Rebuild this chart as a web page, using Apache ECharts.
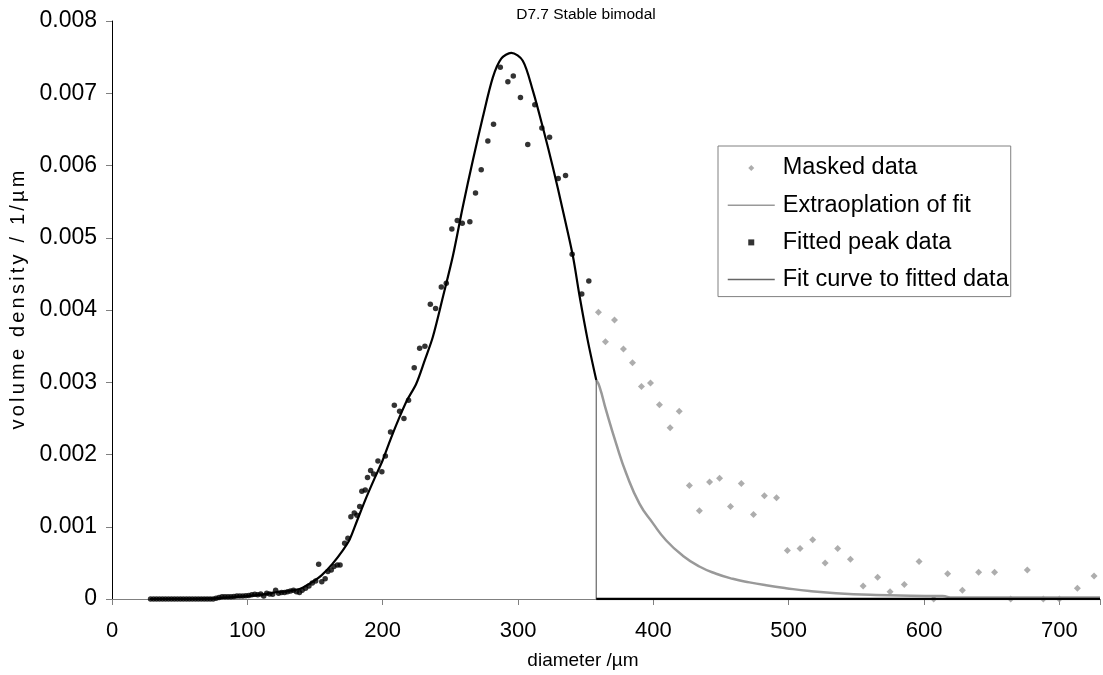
<!DOCTYPE html>
<html>
<head>
<meta charset="utf-8">
<script src="https://cdn.jsdelivr.net/npm/echarts@6/dist/echarts.min.js"></script>
<style>
  html, body { margin: 0; padding: 0; background: #fff; }
  #chart { width: 1103px; height: 675px; }
</style>
</head>
<body>
<div id="chart"></div>
<script>
// Particle size distribution, sample D7.7 (stable bimodal)
const chartTitle = 'D7.7 Stable bimodal';
const xAxisTitle = 'diameter /\u00b5m';
const yAxisTitle = 'volume density / 1/\u00b5m';

const xTicks = [0, 100, 200, 300, 400, 500, 600, 700];
const yTicks = [0, 0.001, 0.002, 0.003, 0.004, 0.005, 0.006, 0.007, 0.008];

// Measured points used for the peak fit
const fittedX = [
  28.5, 30.7, 32.9, 35.1, 37.3, 39.5, 41.7, 43.9, 46.1, 48.3, 50.5, 52.7, 54.9, 57.1,
  59.3, 61.5, 63.7, 65.9, 68.1, 70.3, 72.5, 74.7, 76.9, 79.1, 81.3, 83.5, 85.7, 87.9,
  90.1, 92.3, 94.5, 96.7, 98.9, 101.1, 103.3, 105.5, 107.7, 109.9, 112.1, 114.3, 116.5,
  118.7, 120.9, 123.1, 125.3, 127.5, 129.7, 131.9, 134.1, 136.3, 138.5, 140.5, 143,
  145.5, 148, 150.5, 152.7, 155, 157.5, 159.5, 162, 164, 166.5, 168.5, 171.9, 174.3,
  176.5, 179, 181, 183, 184.6, 187.1, 188.8, 191.1, 193.3, 196.5, 199.4, 202, 205.8,
  208.6, 212.5, 215.7, 219.1, 223.3, 227.3, 231.2, 235.2, 239.1, 243.3, 247.0, 251.1,
  255.1, 258.8, 264.4, 268.6, 272.8, 277.7, 281.9, 286.9, 292.5, 296.5, 301.8, 307.2,
  312.4, 317.6, 323.3, 329.7, 335.1, 340.0, 347.1, 352.3
];
const fittedY = [
  0, 0, 0, 0, 0, 0, 0, 0, 0, 0, 0, 0, 0, 0,
  0, 0, 0, 0, 0, 0, 0, 0, 0.00001, 0.00002, 0.00003, 0.00003, 0.00003, 0.00003,
  0.000035, 0.00004, 0.00004, 0.00004, 0.000045, 0.00005, 0.00006, 0.000065, 0.00006, 0.00007, 0.00004, 0.00008, 0.00007,
  0.000065, 0.00012, 0.00008, 0.00009, 0.00009, 0.0001, 0.00011, 0.00012, 0.0001, 0.00009, 0.00012, 0.00015,
  0.00018, 0.00022, 0.00025, 0.00048, 0.00024, 0.00028, 0.00038, 0.0004, 0.00045, 0.00047, 0.00047, 0.00077, 0.00084,
  0.00114, 0.00119, 0.00116, 0.00128, 0.00149, 0.00151, 0.00168, 0.00178, 0.00173, 0.00191, 0.00176, 0.00198, 0.00231,
  0.00268, 0.0026, 0.0025, 0.00275, 0.0032, 0.00347, 0.0035, 0.00408, 0.00402, 0.00432, 0.00437, 0.00512,
  0.00524, 0.0052, 0.00522, 0.00562, 0.00594, 0.00634, 0.00657, 0.00736, 0.00716, 0.00724, 0.00694, 0.00629,
  0.00684, 0.00652, 0.00639, 0.00582, 0.00586, 0.00477, 0.00422, 0.0044
];

// Points excluded from the fit (second mode)
const maskedX = [
  359.4, 364.6, 371.3, 377.9, 384.6, 391.2, 397.9, 404.5, 412.4, 419.1, 426.6, 434, 441.5,
  448.9, 457, 465, 474, 482, 491, 499, 508.4, 517.7, 526.9, 536.2, 545.6, 555, 565.7,
  574.9, 585.4, 596.3, 607.1, 617.4, 628.3, 640.3, 652.1, 664, 676.3, 688.1, 700, 713.3, 725.6
];
const maskedY = [
  0.00397, 0.00356, 0.00386, 0.00346, 0.00327, 0.00294, 0.00299, 0.00269, 0.00237, 0.0026, 0.00157, 0.00122, 0.00162,
  0.00167, 0.00128, 0.0016, 0.00117, 0.00143, 0.0014, 0.00067, 0.0007, 0.00082, 0.0005, 0.0007, 0.00055, 0.00018, 0.0003,
  0.0001, 0.0002, 0.00052, 0, 0.00035, 0.00012, 0.00037, 0.00037, 0, 0.0004, 0, 0, 0.00015, 0.00032
];

// Fitted curve over the fitted range
const fitX = [
  28, 60, 75, 90, 100, 110, 120, 130, 140, 150, 155, 163, 170, 175.5, 181, 188, 194,
  200, 206, 212.5, 218, 224.8, 231, 237.1, 244.5, 251.9, 259.2, 266.6, 274, 281.4,
  287.6, 295, 303.5, 310.9, 318.3, 325.7, 333.1, 340.5, 345.4, 351.5, 357.8
];
const fitY = [
  0, 0.000003, 0.00001, 0.000025, 0.00004, 0.00006, 0.00009, 0.00011, 0.00015, 0.00026, 0.00033, 0.00049, 0.00066, 0.00082, 0.00108, 0.00141, 0.00167,
  0.00192, 0.00222, 0.00252, 0.00275, 0.00298, 0.0033, 0.00363, 0.00418, 0.00475, 0.00543, 0.00607, 0.00667, 0.00722,
  0.00748, 0.00756, 0.00745, 0.00704, 0.00653, 0.00598, 0.00538, 0.00475, 0.0042, 0.00358, 0.00303
];
// Fit curve is cut to zero beyond the fitted range
const fitCutX = [357.8, 357.8];
const fitCutY = [0.00303, 0];
const fitZeroX = [357.8, 730];
const fitZeroY = [0, 0];

// Extrapolation of the fit beyond the fitted range
const extX = [
  357.8, 360.2, 365.1, 372.5, 379.9, 389.7, 399.6, 409.5, 421.7, 434, 446.4, 458.6, 471,
  483.3, 498, 515.3, 535, 564.5, 590, 613.7, 621, 730
];
const extY = [
  0.00303, 0.00294, 0.00261, 0.00215, 0.00174, 0.00132, 0.00105, 0.00081, 0.0006, 0.00045, 0.00035, 0.00028, 0.00023,
  0.00019, 0.00015, 0.00011, 0.00008, 0.000055, 0.000045, 0.00004, 0.00002, 0.00002
];

const zip = (xs, ys) => xs.map((x, i) => [x, ys[i]]);

// Rotated axis title set with slightly loose letter spacing
const spaced = s => Array.from(s).map(ch => '{c|' + ch + '}').join('');

const FONT = '"Liberation Sans", Arial, sans-serif';
const chart = echarts.init(document.getElementById('chart'), null, { renderer: 'canvas' });

chart.setOption({
  animation: false,
  backgroundColor: '#ffffff',
  textStyle: { fontFamily: FONT },
  title: {
    text: chartTitle,
    left: 581,
    top: 2,
    textAlign: 'center',
    textStyle: { fontFamily: FONT, fontSize: 15.5, fontWeight: 'normal', color: '#000' }
  },
  grid: { left: 112, top: 21, right: 3, bottom: 76, containLabel: false },
  legend: {
    orient: 'vertical',
    left: 718,
    top: 146,
    padding: [10, 2, 5, 9],
    itemWidth: 47,
    itemHeight: 6,
    itemGap: 13.2,
    symbolKeepAspect: true,
    borderColor: '#808080',
    borderWidth: 1,
    textStyle: { fontFamily: FONT, fontSize: 23.5, lineHeight: 23.5, color: '#000', padding: [0, 0, 0, 3] },
    data: [
      { name: 'Masked data', icon: 'path://M5,0L10,5L5,10L0,5Z' },
      { name: 'Extraoplation of fit', itemStyle: { opacity: 0 }, lineStyle: { color: '#999999', width: 1.5 } },
      { name: 'Fitted peak data', icon: 'path://M0,0L10,0L10,10L0,10Z' },
      { name: 'Fit curve to fitted data', itemStyle: { opacity: 0 }, lineStyle: { color: '#666666', width: 1.5 } }
    ]
  },
  xAxis: {
    type: 'value',
    min: 0,
    max: 730,
    interval: 100,
    name: xAxisTitle,
    nameLocation: 'middle',
    nameGap: 52,
    nameTextStyle: { fontFamily: FONT, fontSize: 19, color: '#000', padding: [0, 46, 0, 0] },
    axisLine: { show: true, lineStyle: { color: '#808080', width: 1 } },
    axisTick: { show: true, length: 6, lineStyle: { color: '#808080' } },
    axisLabel: {
      fontFamily: FONT, fontSize: 22, color: '#000', margin: 21,
      formatter: v => (xTicks.includes(v) ? String(v) : '')
    },
    splitLine: { show: false }
  },
  yAxis: {
    type: 'value',
    min: 0,
    max: 0.008,
    interval: 0.001,
    name: spaced(yAxisTitle),
    nameLocation: 'middle',
    nameGap: 84,
    nameRotate: 90,
    nameTextStyle: {
      fontFamily: FONT, fontSize: 20, color: '#000', padding: [0, 0, 0, 20],
      rich: { c: { fontFamily: FONT, fontSize: 20, color: '#000', padding: [0, 1.6, 0, 1.6] } }
    },
    axisLine: { show: true, lineStyle: { color: '#000', width: 1 } },
    axisTick: { show: true, length: 6, lineStyle: { color: '#808080' } },
    axisLabel: {
      fontFamily: FONT, fontSize: 23, color: '#000', margin: 15,
      formatter: v => {
        const t = yTicks.find(k => Math.abs(k - v) < 1e-9);
        if (t === undefined) return '';
        return t === 0 ? '0' : t.toFixed(3);
      }
    },
    splitLine: { show: false }
  },
  series: [
    {
      name: 'Masked data',
      type: 'scatter',
      symbol: 'diamond',
      symbolSize: 7,
      itemStyle: { color: '#999999' },
      data: zip(maskedX, maskedY),
      z: 2
    },
    {
      name: 'Extraoplation of fit',
      type: 'line',
      symbol: 'none',
      smooth: 0.5,
      itemStyle: { color: '#999999' },
      lineStyle: { color: '#999999', width: 2.5 },
      data: zip(extX, extY),
      z: 3
    },
    {
      name: 'Fitted peak data',
      type: 'scatter',
      symbol: 'circle',
      symbolSize: 5.5,
      itemStyle: { color: '#000' },
      data: zip(fittedX, fittedY),
      z: 4
    },
    {
      name: 'Fit curve to fitted data',
      type: 'line',
      symbol: 'none',
      smooth: 0.3,
      itemStyle: { color: '#000' },
      lineStyle: { color: '#000', width: 2.2 },
      data: zip(fitX, fitY),
      z: 5
    },
    {
      name: 'Fit curve to fitted data',
      type: 'line',
      symbol: 'none',
      itemStyle: { color: '#666666' },
      lineStyle: { color: '#666666', width: 1.2 },
      data: zip(fitCutX, fitCutY),
      z: 5
    },
    {
      name: 'Fit curve to fitted data',
      type: 'line',
      symbol: 'none',
      itemStyle: { color: '#000' },
      lineStyle: { color: '#000', width: 2.5 },
      data: zip(fitZeroX, fitZeroY),
      z: 5
    }
  ]
});
</script>
</body>
</html>
